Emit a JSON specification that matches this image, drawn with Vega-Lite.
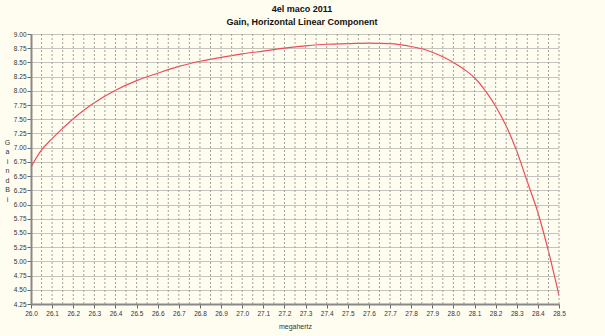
{
  "$schema": "https://vega.github.io/schema/vega-lite/v6.json",
  "width": 528,
  "height": 270,
  "autosize": {"type": "none"},
  "padding": {"left": 31, "top": 34, "right": 46, "bottom": 32},
  "background": "#fffdf0",
  "title": {
    "text": "4el maco 2011",
    "subtitle": "Gain, Horizontal Linear Component",
    "anchor": "middle",
    "frame": "group",
    "dx": 7,
    "offset": 4,
    "font": "Liberation Sans",
    "fontSize": 9,
    "fontWeight": "bold",
    "color": "#111",
    "subtitleFont": "Liberation Sans",
    "subtitleFontSize": 9,
    "subtitleFontWeight": "bold",
    "subtitleColor": "#111",
    "subtitlePadding": 4
  },
  "config": {
    "view": {"stroke": null, "fill": "#fffdf0"},
    "axis": {
      "labelFont": "Liberation Sans",
      "titleFont": "Liberation Sans",
      "labelFontSize": 6.5,
      "titleFontSize": 7,
      "labelColor": "#333",
      "titleColor": "#333",
      "domainColor": "#888",
      "domainWidth": 2,
      "tickColor": "#666",
      "tickSize": 4,
      "titleFontWeight": "normal"
    }
  },
  "data": {
    "values": [
      {"mhz": 26.0, "gain": 6.66},
      {"mhz": 26.05, "gain": 6.96},
      {"mhz": 26.1, "gain": 7.16},
      {"mhz": 26.15, "gain": 7.34},
      {"mhz": 26.2, "gain": 7.51},
      {"mhz": 26.25, "gain": 7.66},
      {"mhz": 26.3, "gain": 7.79},
      {"mhz": 26.4, "gain": 8.01},
      {"mhz": 26.5, "gain": 8.18},
      {"mhz": 26.6, "gain": 8.31},
      {"mhz": 26.7, "gain": 8.43},
      {"mhz": 26.8, "gain": 8.52},
      {"mhz": 26.9, "gain": 8.59},
      {"mhz": 27.0, "gain": 8.65},
      {"mhz": 27.1, "gain": 8.70},
      {"mhz": 27.2, "gain": 8.75},
      {"mhz": 27.3, "gain": 8.79},
      {"mhz": 27.4, "gain": 8.82},
      {"mhz": 27.5, "gain": 8.83},
      {"mhz": 27.6, "gain": 8.84},
      {"mhz": 27.7, "gain": 8.83},
      {"mhz": 27.8, "gain": 8.78},
      {"mhz": 27.85, "gain": 8.74},
      {"mhz": 27.9, "gain": 8.68},
      {"mhz": 27.95, "gain": 8.60},
      {"mhz": 28.0, "gain": 8.50},
      {"mhz": 28.05, "gain": 8.38},
      {"mhz": 28.1, "gain": 8.23},
      {"mhz": 28.15, "gain": 8.01},
      {"mhz": 28.2, "gain": 7.73},
      {"mhz": 28.25, "gain": 7.38},
      {"mhz": 28.3, "gain": 6.94},
      {"mhz": 28.35, "gain": 6.40},
      {"mhz": 28.4, "gain": 5.86},
      {"mhz": 28.45, "gain": 5.18},
      {"mhz": 28.5, "gain": 4.40}
    ]
  },
  "layer": [
    {
      "mark": {"type": "line", "color": "#f04a55", "strokeWidth": 1.2, "interpolate": "monotone", "clip": true},
      "encoding": {
        "x": {
          "field": "mhz",
          "type": "quantitative",
          "scale": {"domain": [26.0, 28.5], "nice": false, "zero": false},
          "axis": {
            "title": "megahertz",
            "format": ".1f",
            "values": [26.0, 26.1, 26.2, 26.3, 26.4, 26.5, 26.6, 26.7, 26.8, 26.9, 27.0, 27.1, 27.2, 27.3, 27.4, 27.5, 27.6, 27.7, 27.8, 27.9, 28.0, 28.1, 28.2, 28.3, 28.4, 28.5],
            "grid": false,
            "labelOverlap": false,
            "labelFlush": false,
            "labelBound": false,
            "labelPadding": 2,
            "titlePadding": 6
          }
        },
        "y": {
          "field": "gain",
          "type": "quantitative",
          "scale": {"domain": [4.25, 9.0], "nice": false, "zero": false},
          "axis": {
            "title": ["G", "a", "i", "n", "", "d", "B", "i"],
            "titleAngle": 0,
            "titleLineHeight": 9.5,
            "titleBaseline": "top",
            "titleAlign": "center",
            "titleX": -24,
            "titleY": 104,
            "format": ".2f",
            "values": [4.25, 4.5, 4.75, 5.0, 5.25, 5.5, 5.75, 6.0, 6.25, 6.5, 6.75, 7.0, 7.25, 7.5, 7.75, 8.0, 8.25, 8.5, 8.75, 9.0],
            "grid": true,
            "gridColor": "#888",
            "gridDash": [1, 1],
            "gridWidth": 1,
            "labelOverlap": false,
            "labelFlush": false,
            "labelPadding": 1
          }
        }
      }
    },
    {
      "mark": {"type": "rule", "color": "#a0a0a0", "strokeDash": [2, 2], "strokeWidth": 1},
      "data": {
        "values": [
          {"v": 26.05}, {"v": 26.1}, {"v": 26.15}, {"v": 26.2}, {"v": 26.25}, {"v": 26.3}, {"v": 26.35}, {"v": 26.4}, {"v": 26.45}, {"v": 26.5},
          {"v": 26.55}, {"v": 26.6}, {"v": 26.65}, {"v": 26.7}, {"v": 26.75}, {"v": 26.8}, {"v": 26.85}, {"v": 26.9}, {"v": 26.95}, {"v": 27.0},
          {"v": 27.05}, {"v": 27.1}, {"v": 27.15}, {"v": 27.2}, {"v": 27.25}, {"v": 27.3}, {"v": 27.35}, {"v": 27.4}, {"v": 27.45}, {"v": 27.5},
          {"v": 27.55}, {"v": 27.6}, {"v": 27.65}, {"v": 27.7}, {"v": 27.75}, {"v": 27.8}, {"v": 27.85}, {"v": 27.9}, {"v": 27.95}, {"v": 28.0},
          {"v": 28.05}, {"v": 28.1}, {"v": 28.15}, {"v": 28.2}, {"v": 28.25}, {"v": 28.3}, {"v": 28.35}, {"v": 28.4}, {"v": 28.45}, {"v": 28.5}
        ]
      },
      "encoding": {
        "x": {
          "field": "v",
          "type": "quantitative",
          "scale": {"domain": [26.0, 28.5], "nice": false, "zero": false},
          "axis": {
            "title": "megahertz",
            "format": ".1f",
            "values": [26.0, 26.1, 26.2, 26.3, 26.4, 26.5, 26.6, 26.7, 26.8, 26.9, 27.0, 27.1, 27.2, 27.3, 27.4, 27.5, 27.6, 27.7, 27.8, 27.9, 28.0, 28.1, 28.2, 28.3, 28.4, 28.5],
            "grid": false,
            "labelOverlap": false,
            "labelFlush": false,
            "labelBound": false,
            "labelPadding": 2,
            "titlePadding": 6
          }
        }
      }
    }
  ]
}
